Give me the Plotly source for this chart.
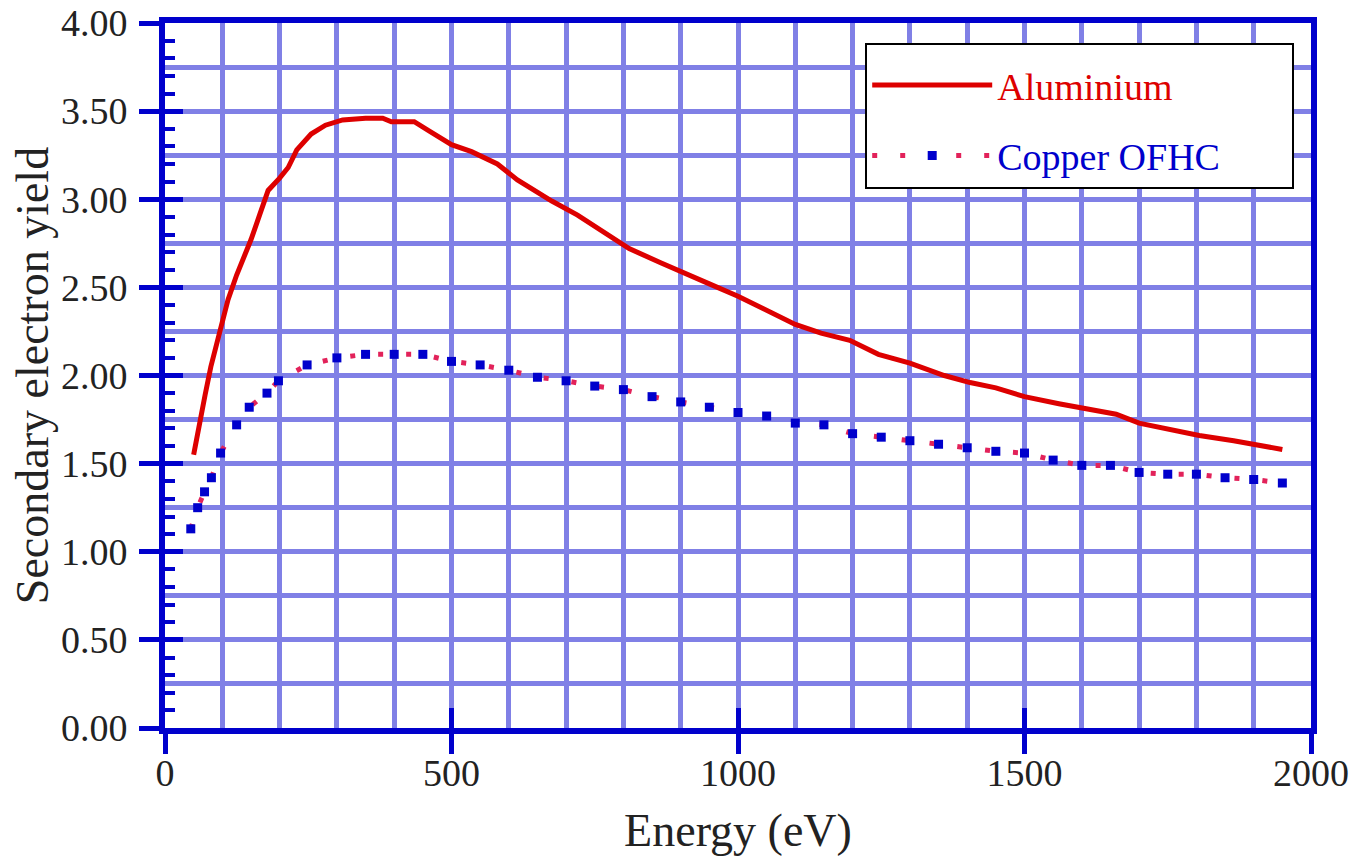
import plotly.graph_objects as go

# Aluminium secondary electron yield
al_energy = [50, 60, 70, 80, 90, 100, 110, 125, 140, 150, 165, 180, 200, 215, 230, 255, 280,
             310, 350, 380, 395, 435, 460, 500, 535, 580, 615, 650, 675, 720, 770, 810, 865,
             905, 950, 1000, 1050, 1100, 1145, 1195, 1245, 1300, 1360, 1405, 1450, 1500,
             1560, 1610, 1660, 1700, 1760, 1805, 1865, 1910, 1950]
al_yield = [1.55, 1.73, 1.89, 2.05, 2.18, 2.32, 2.43, 2.57, 2.68, 2.77, 2.91, 3.05, 3.12, 3.18,
            3.28, 3.37, 3.42, 3.45, 3.46, 3.46, 3.44, 3.44, 3.39, 3.31, 3.27, 3.20, 3.11, 3.04,
            2.99, 2.91, 2.80, 2.72, 2.64, 2.58, 2.52, 2.45, 2.37, 2.29, 2.24, 2.20, 2.12, 2.07,
            2.00, 1.96, 1.93, 1.88, 1.84, 1.81, 1.78, 1.73, 1.69, 1.66, 1.63, 1.60, 1.58]

# Copper OFHC secondary electron yield
cu_energy = [45, 57, 69, 81, 97, 125, 147, 178, 198, 248, 300, 350, 400, 450, 500, 550, 600,
             650, 700, 750, 800, 850, 900, 950, 1000, 1050, 1100, 1150, 1200, 1250, 1300, 1350,
             1400, 1450, 1500, 1550, 1600, 1650, 1700, 1750, 1800, 1850, 1900, 1950]
cu_yield = [1.13, 1.25, 1.34, 1.42, 1.56, 1.72, 1.82, 1.90, 1.97, 2.06, 2.10, 2.12, 2.12, 2.12,
            2.08, 2.06, 2.03, 1.99, 1.97, 1.94, 1.92, 1.88, 1.85, 1.82, 1.79, 1.77, 1.73, 1.72,
            1.67, 1.65, 1.63, 1.61, 1.59, 1.57, 1.56, 1.52, 1.49, 1.49, 1.45, 1.44, 1.44, 1.42,
            1.41, 1.39]

series_names = ["Aluminium", "Copper OFHC"]
x_title = "Energy (eV)"
y_title = "Secondary electron yield"

AXIS = "#0000cc"
GRID = "#8080e6"
RED = "#dd0000"
PINK = "#e2225a"
FONT = "Liberation Serif, Times New Roman, serif"
FS = 38
PAD = "&nbsp;" * 7

fig = go.Figure()
fig.add_trace(go.Scatter(
    x=al_energy, y=al_yield, mode="lines",
    name=f"<span style='color:{RED}'>{series_names[0]}</span>",
    line=dict(color=RED, width=5), legendgroup="a"))
fig.add_trace(go.Scatter(
    x=cu_energy, y=cu_yield, mode="lines+markers",
    name=f"<span style='color:{AXIS}'>{series_names[1]}</span>{PAD}",
    line=dict(color=PINK, width=5, dash="5px,23px"),
    marker=dict(symbol="square", size=9, color=AXIS), legendgroup="b"))
# empty trace to host the overlay axes (inside tick marks)
fig.add_trace(go.Scatter(x=[], y=[], xaxis="x2", yaxis="y2", showlegend=False,
                         hoverinfo="skip"))

fig.update_layout(
    width=1369, height=856,
    margin=dict(l=165, r=58, t=23, b=128, autoexpand=False),
    paper_bgcolor="white", plot_bgcolor="white",
    font=dict(family=FONT, size=FS, color="#222222"),
    showlegend=True,
    legend=dict(x=0.611, y=0.972, xanchor="left", yanchor="top",
                bgcolor="white", bordercolor="black", borderwidth=2,
                itemwidth=120, tracegroupgap=18,
                title=dict(text="&nbsp;", font=dict(size=7)),
                font=dict(family=FONT, size=FS)),
    xaxis=dict(range=[0, 2000], dtick=500, tick0=0, showgrid=True, gridcolor=GRID, gridwidth=5,
               minor=dict(dtick=100, showgrid=True, gridcolor=GRID, gridwidth=5, ticks=""),
               ticks="outside", ticklen=20, tickwidth=5, tickcolor=AXIS,
               ticklabelstandoff=-14, ticklabeloverflow="allow",
               showline=True, linecolor=AXIS, linewidth=6, mirror=True, zeroline=False,
               automargin=False,
               title=dict(text=x_title, standoff=25)),
    yaxis=dict(range=[0, 4], dtick=0.5, tick0=0, tickformat=".2f", showgrid=True,
               gridcolor=GRID, gridwidth=5,
               minor=dict(dtick=0.25, showgrid=True, gridcolor=GRID, gridwidth=5, ticks=""),
               ticks="outside", ticklen=20, tickwidth=5, tickcolor=AXIS,
               ticklabelstandoff=4, ticklabeloverflow="allow",
               showline=True, linecolor=AXIS, linewidth=6, mirror=True, zeroline=False,
               automargin=False,
               title=dict(text=y_title, standoff=0)),
    xaxis2=dict(range=[0, 2000], dtick=500, tick0=0, overlaying="x", anchor="y2",
                ticks="inside", ticklen=20, tickwidth=5, tickcolor=AXIS, automargin=False,
                showticklabels=False, showgrid=False, zeroline=False, showline=False),
    yaxis2=dict(range=[0, 4], dtick=0.5, tick0=0, overlaying="y", anchor="x2", side="left",
                ticks="inside", ticklen=18, tickwidth=5, tickcolor=AXIS, automargin=False,
                minor=dict(dtick=0.1, ticks="inside", ticklen=10, tickwidth=4, tickcolor=AXIS,
                           showgrid=False),
                showticklabels=False, showgrid=False, zeroline=False, showline=False),
)

# remove the default 8px page margin so the figure fills the window exactly
fig.write_html("out.html",
               config={"displayModeBar": False},
               post_script="document.body.style.margin='0';"
                           "document.body.style.overflow='hidden';")
